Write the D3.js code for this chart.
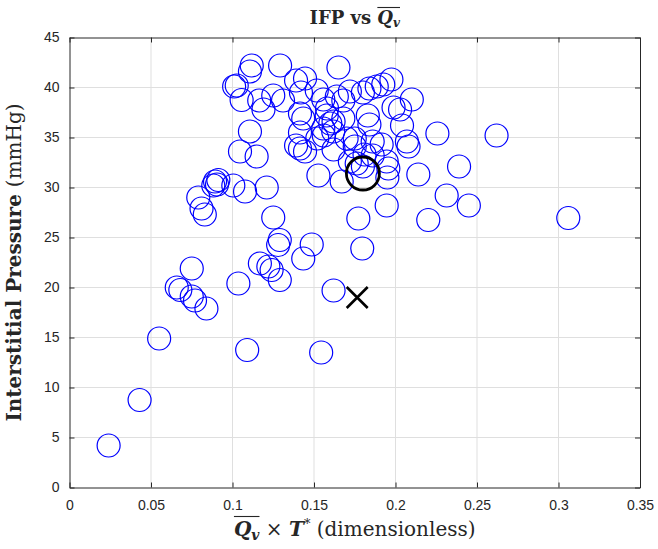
<!DOCTYPE html>
<html>
<head>
<meta charset="utf-8">
<script src="https://cdn.jsdelivr.net/npm/d3@7"></script>
<style>
  body { margin: 0; background: #fff; }
  .tick text { font-family: "Liberation Sans", Arial, sans-serif; font-size: 14px; fill: #262626; }
  .serif { font-family: "DejaVu Serif", "Liberation Serif", serif; fill: #262626; }
</style>
</head>
<body>
<div class="chart"></div>
<script>
// data (x = Qv*T*, y = IFP mmHg)
const qv = [0.024, 0.043, 0.055, 0.109, 0.1544, 0.0658, 0.068, 0.075, 0.075, 0.077,
  0.084, 0.1036, 0.1168, 0.122, 0.124, 0.129, 0.1434, 0.1486, 0.128, 0.129,
  0.125, 0.162, 0.1796, 0.1772, 0.1946, 0.2201, 0.2314, 0.245, 0.239, 0.262,
  0.306, 0.2257, 0.214, 0.079, 0.081, 0.083, 0.0882, 0.0893, 0.0913, 0.0905,
  0.1005, 0.1077, 0.121, 0.1046, 0.1148, 0.1107, 0.1118, 0.1107, 0.1026, 0.101,
  0.1056, 0.1164, 0.119, 0.1292, 0.125, 0.131, 0.139, 0.1445, 0.142, 0.1414,
  0.1434, 0.165, 0.1517, 0.1557, 0.164, 0.168, 0.172, 0.180, 0.184, 0.1885,
  0.1925, 0.1975, 0.210, 0.1988, 0.2028, 0.204, 0.183, 0.158, 0.1578, 0.160,
  0.162, 0.168, 0.184, 0.1414, 0.152, 0.156, 0.1557, 0.1618, 0.170, 0.175,
  0.175, 0.186, 0.1915, 0.207, 0.208, 0.139, 0.1414, 0.1445, 0.162, 0.181,
  0.186, 0.1946, 0.1956, 0.195, 0.1762, 0.180, 0.172, 0.1527, 0.167];
const ifp = [4.2, 8.75, 14.9, 13.75, 13.5, 20.0, 19.75, 21.9, 19.1, 18.7,
  17.9, 20.4, 22.4, 22.1, 21.75, 20.75, 22.9, 24.3, 24.25, 24.75,
  27.0, 19.7, 23.9, 26.9, 28.2, 26.75, 29.2, 28.2, 32.1, 35.2,
  26.95, 35.4, 31.3, 29.0, 27.9, 27.3, 30.2, 30.6, 30.75, 30.3,
  30.2, 29.6, 30.0, 33.6, 33.1, 35.6, 42.2, 41.6, 40.2, 40.1,
  38.75, 38.7, 37.8, 42.2, 39.2, 38.7, 40.7, 40.9, 39.5, 37.4,
  36.9, 42.0, 39.7, 38.8, 39.1, 38.7, 39.6, 39.5, 39.9, 40.1,
  40.3, 40.8, 38.8, 38.0, 37.8, 36.2, 37.2, 37.9, 37.2, 36.4,
  36.6, 36.9, 36.3, 35.5, 34.9, 35.2, 35.9, 35.6, 34.9, 34.9,
  34.1, 34.6, 34.3, 34.6, 34.1, 34.2, 33.9, 33.6, 33.8, 33.3,
  33.2, 32.6, 31.9, 31.0, 32.4, 32.1, 32.6, 31.2, 30.6];

// highlighted points
const meanPoint = [0.180, 31.4];
const crossPoint = [0.1765, 19.0];

const xTicks = [0, 0.05, 0.1, 0.15, 0.2, 0.25, 0.3, 0.35];
const yTicks = [0, 5, 10, 15, 20, 25, 30, 35, 40, 45];

const W = 658, H = 549;
const margin = {top: 37.5, left: 69.5, right: 18, bottom: 61.5};
const width = W - margin.left - margin.right;
const height = H - margin.top - margin.bottom;

const svg = d3.select(".chart").append("svg")
    .attr("width", W)
    .attr("height", H)
    .append("g")
    .attr("transform", `translate(${margin.left},${margin.top})`);

const x = d3.scaleLinear().domain([0, 0.35]).range([0, width]);
const y = d3.scaleLinear().domain([0, 45]).range([height, 0]);

// grid
svg.append("g").selectAll("line").data(xTicks.slice(1, -1)).join("line")
    .attr("x1", d => x(d)).attr("x2", d => x(d))
    .attr("y1", 0).attr("y2", height)
    .attr("stroke", "#dfdfdf").attr("stroke-width", 1);
svg.append("g").selectAll("line").data(yTicks.slice(1, -1)).join("line")
    .attr("y1", d => y(d)).attr("y2", d => y(d))
    .attr("x1", 0).attr("x2", width)
    .attr("stroke", "#dfdfdf").attr("stroke-width", 1);

// axes, ticks pointing inward like matlab
const fmt = d => d3.format("~g")(d);
const xAxis = svg.append("g").attr("transform", `translate(0,${height})`)
    .call(d3.axisBottom(x).tickValues(xTicks).tickFormat(fmt).tickSizeInner(-5).tickSizeOuter(0).tickPadding(13));
const yAxis = svg.append("g")
    .call(d3.axisLeft(y).tickValues(yTicks).tickFormat(fmt).tickSizeInner(-5).tickSizeOuter(0).tickPadding(10));
const xTop = svg.append("g")
    .call(d3.axisTop(x).tickValues(xTicks).tickFormat("").tickSizeInner(-5).tickSizeOuter(0));
const yRight = svg.append("g").attr("transform", `translate(${width},0)`)
    .call(d3.axisRight(y).tickValues(yTicks).tickFormat("").tickSizeInner(-5).tickSizeOuter(0));
[xAxis, yAxis, xTop, yRight].forEach(a => {
  a.select(".domain").attr("stroke", "#262626");
  a.selectAll(".tick line").attr("stroke", "#262626");
});

// scatter
const pts = qv.map((v, i) => ({x: v, y: ifp[i]}));
svg.append("g").selectAll("circle").data(pts).join("circle")
    .attr("cx", d => x(d.x))
    .attr("cy", d => y(d.y))
    .attr("r", 11.5)
    .attr("fill", "none")
    .attr("stroke", "#0000ff")
    .attr("stroke-width", 1.2);

svg.append("circle")
    .attr("cx", x(meanPoint[0])).attr("cy", y(meanPoint[1]))
    .attr("r", 16.5)
    .attr("fill", "none").attr("stroke", "#000").attr("stroke-width", 2.8);

const cs = 10.5;
const cx = x(crossPoint[0]), cy = y(crossPoint[1]);
svg.append("path")
    .attr("d", `M${cx - cs},${cy - cs}L${cx + cs},${cy + cs}M${cx - cs},${cy + cs}L${cx + cs},${cy - cs}`)
    .attr("stroke", "#000").attr("stroke-width", 2.6).attr("fill", "none");

// title
const title = svg.append("text").attr("class", "serif")
    .attr("x", width / 2).attr("y", -14)
    .attr("text-anchor", "middle")
    .attr("font-size", 18).attr("font-weight", "bold");
title.append("tspan").text("IFP vs ");
title.append("tspan").attr("font-style", "italic").text("Q");
title.append("tspan").attr("font-style", "italic").attr("font-size", 12).attr("dy", 3).text("v");
overbar(title, 7, 9, -16);

// x label
const xl = svg.append("text").attr("class", "serif")
    .attr("x", width / 2).attr("y", height + 48)
    .attr("text-anchor", "middle")
    .attr("font-size", 20);
xl.append("tspan").attr("font-weight", "bold").attr("font-style", "italic").text("Q");
xl.append("tspan").attr("font-weight", "bold").attr("font-style", "italic").attr("font-size", 14).attr("dy", 4).text("v");
xl.append("tspan").attr("dy", -4).text(" \u00d7 ");
xl.append("tspan").attr("font-weight", "bold").attr("font-style", "italic").text("T");
xl.append("tspan").attr("font-size", 13).attr("dy", -8).text("*");
xl.append("tspan").attr("dy", 8).text(" (dimensionless)");
overbar(xl, 0, 2, -19);

// y label
svg.append("text").attr("class", "serif")
    .attr("transform", `translate(${-49},${height / 2}) rotate(-90)`)
    .attr("text-anchor", "middle")
    .attr("font-size", 20)
    .call(t => {
      t.append("tspan").attr("font-weight", "bold").text("Interstitial Pressure ");
      t.append("tspan").text("(mmHg)");
    });

// draw a line above chars [from, to) of a text element
function overbar(txt, from, to, dy) {
  const node = txt.node();
  const s = node.getStartPositionOfChar(from);
  const e = node.getEndPositionOfChar(to - 1);
  const base = +txt.attr("y");
  svg.append("line")
    .attr("x1", s.x).attr("x2", e.x)
    .attr("y1", base + dy).attr("y2", base + dy)
    .attr("stroke", "#262626").attr("stroke-width", 1.1);
}
</script>
</body>
</html>
